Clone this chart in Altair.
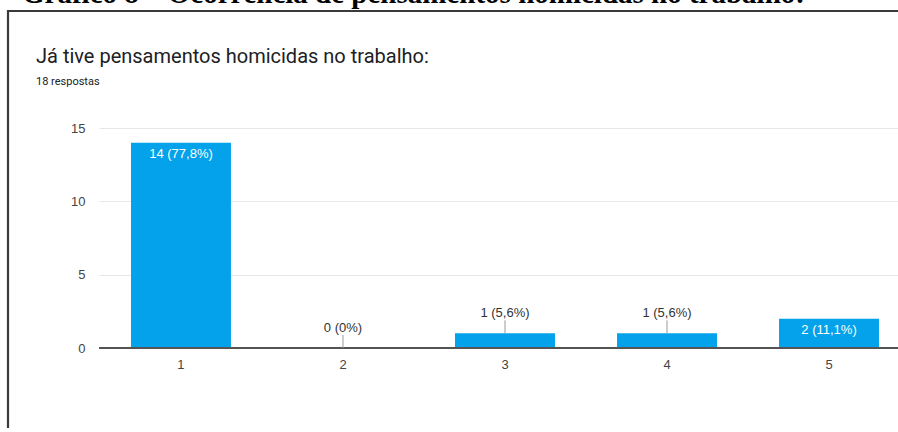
import altair as alt
import pandas as pd

categories = ["1", "2", "3", "4", "5"]
counts = [14, 0, 1, 1, 2]
bar_labels = ["14 (77,8%)", "0 (0%)", "1 (5,6%)", "1 (5,6%)", "2 (11,1%)"]
y_ticks = [0, 2.5, 5, 7.5, 10, 12.5, 15]

caption = "Gráfico 8 – Ocorrência de pensamentos homicidas no trabalho:"
title = "Já tive pensamentos homicidas no trabalho:"
subtitle = "18 respostas"

df = pd.DataFrame({"cat": categories, "value": counts, "label": bar_labels})

BLUE = "#03a2ea"
FONT = "Liberation Sans"

x_enc = alt.X(
    "cat:N",
    sort=categories,
    scale=alt.Scale(range=[0, 812], paddingInner=0.383, paddingOuter=0.1975),
    axis=alt.Axis(
        title=None, labelAngle=0, ticks=False, grid=False, domain=False,
        labelFont=FONT, labelFontSize=13, labelColor="#444444", labelPadding=10,
    ),
)
y_enc = alt.Y(
    "value:Q",
    scale=alt.Scale(domain=[0, 15], nice=False),
    axis=alt.Axis(
        title=None, values=y_ticks, domain=False, ticks=False,
        labelExpr="datum.value % 5 === 0 ? datum.label : ''",
        labelFont=FONT, labelFontSize=13, labelColor="#444444", labelPadding=14,
        gridColor={"condition": {"test": "datum.value % 5 === 0", "value": "#e8e8e8"}, "value": "#f3f3f3"},
        gridWidth=1,
    ),
)

base = alt.Chart(df)

bars = base.mark_bar(color=BLUE).encode(x=x_enc, y=y_enc)

baseline = base.mark_rule(color="#555555", strokeWidth=1.5).encode(
    y=alt.Y(datum=0), x=alt.value(0), x2=alt.value(799)
)

inside = base.transform_filter("datum.value >= 2").mark_text(
    color="white", font=FONT, fontSize=13, baseline="middle", dy=11
).encode(x=alt.X("cat:N", sort=categories), y="value:Q", text="label:N")

outside = base.transform_filter("datum.value < 2").mark_text(
    color="#333333", font=FONT, fontSize=13, baseline="middle", dy=-20
).encode(x=alt.X("cat:N", sort=categories), y="value:Q", text="label:N")

leader = base.transform_filter("datum.value < 2").mark_rule(
    color="#9a9a9a", strokeWidth=1, y2Offset=-13
).encode(x=alt.X("cat:N", sort=categories), y="value:Q", y2="value:Q")

deco = alt.Chart(pd.DataFrame({"d": [0]}))

cap = deco.mark_text(
    text=caption, font="Liberation Serif", fontWeight="bold", fontSize=29,
    align="left", baseline="alphabetic", color="#000000"
).encode(x=alt.value(-77), y=alt.value(-125))

ttl = deco.mark_text(
    text=title, font="Roboto", fontSize=20, align="left",
    baseline="alphabetic", color="#202124"
).encode(x=alt.value(-63), y=alt.value(-65))

sub = deco.mark_text(
    text=subtitle, font="Roboto", fontSize=11, align="left",
    baseline="alphabetic", color="#202124"
).encode(x=alt.value(-63), y=alt.value(-43))

border_top = deco.mark_rule(color="#3a3a3a", strokeWidth=2.2).encode(
    x=alt.value(-92), x2=alt.value(799), y=alt.value(-117)
)
border_left = deco.mark_rule(color="#3a3a3a", strokeWidth=2.2).encode(
    x=alt.value(-91), y=alt.value(-118), y2=alt.value(300)
)

chart = alt.layer(
    bars, baseline, leader, inside, outside, cap, ttl, sub, border_top, border_left
).properties(
    width=799, height=220,
    autosize=alt.AutoSizeParams(type="none"),
    padding={"left": 99, "top": 128, "right": 0, "bottom": 80},
    background="white",
).configure_view(stroke=None)

chart.save("out.html", embed_options={"renderer": "svg", "actions": False})
